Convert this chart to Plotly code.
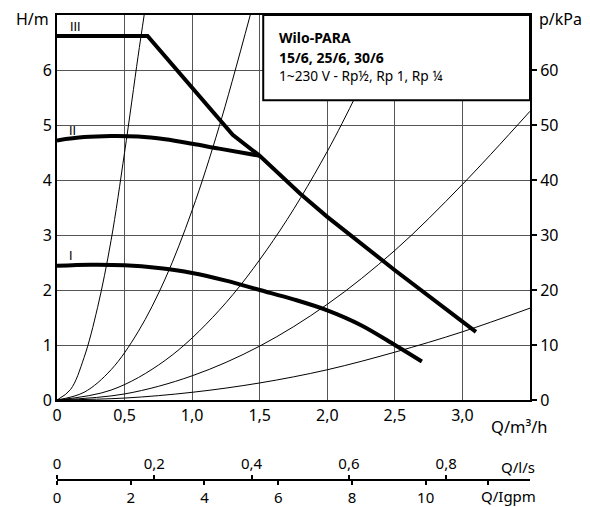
import plotly.graph_objects as go

# ---- data ----
x_ticks = [0, 0.5, 1.0, 1.5, 2.0, 2.5, 3.0]
x_ticktext = ["0", "0,5", "1,0", "1,5", "2,0", "2,5", "3,0"]
h_ticks = [0, 1, 2, 3, 4, 5, 6]
p_ticks = [0, 10, 20, 30, 40, 50, 60]
ls_ticks = [0, 0.2, 0.4, 0.6, 0.8]
ls_ticktext = ["0", "0,2", "0,4", "0,6", "0,8"]
gpm_ticks = [0, 2, 4, 6, 8, 10, 11.7]
gpm_ticktext = ["0", "2", "4", "6", "8", "10", ""]

# pump curves (Q in m3/h, H in m)
I_q = [0, 0.25, 0.5, 0.75, 1.0, 1.25, 1.5, 1.75, 2.0, 2.25, 2.5, 2.7]
I_h = [2.44, 2.46, 2.45, 2.40, 2.31, 2.17, 2.0, 1.83, 1.63, 1.36, 1.0, 0.70]
II_q = [0, 0.2, 0.4, 0.6, 0.8, 1.0, 1.2, 1.5]
II_h = [4.72, 4.78, 4.80, 4.79, 4.74, 4.66, 4.57, 4.44]
III_q = [0, 0.67, 1.3, 1.5, 1.8, 2.0, 2.5, 3.0, 3.1]
III_h = [6.62, 6.62, 4.82, 4.44, 3.75, 3.33, 2.36, 1.43, 1.24]

# system curves
A_q = [0, 0.1, 0.2, 0.3, 0.4, 0.5, 0.6, 0.645]
A_h = [0, 0.19, 0.77, 1.68, 2.9, 4.5, 6.25, 7.0]
B_q = [0, 0.2, 0.4, 0.6, 0.8, 1.0, 1.2, 1.43]
B_h = [0, 0.14, 0.55, 1.24, 2.2, 3.45, 4.97, 7.0]
C_q = [0, 0.4, 0.8, 1.2, 1.6, 2.0, 2.4, 2.49]
C_h = [0, 0.18, 0.72, 1.63, 2.9, 4.52, 6.5, 7.0]
D_q = [0, 0.5, 1.0, 1.5, 2.0, 2.5, 3.0, 3.5]
D_h = [0, 0.11, 0.44, 0.98, 1.74, 2.72, 3.92, 5.25]
E_q = [0, 0.5, 1.0, 1.5, 2.0, 2.5, 3.0, 3.5]
E_h = [0, 0.035, 0.14, 0.31, 0.55, 0.87, 1.24, 1.67]

FONT = "Noto Sans"
OFF = 8  # default page body margin
W, H = 582, 499
ML, MR, MT, MB = 49, 60, 7, 27
plot_w = W - ML - MR
plot_h = H - MT - MB
ydom0 = (H - MB - (400 - OFF)) / plot_h

fig = go.Figure()
for q, h in [(A_q, A_h), (B_q, B_h), (C_q, C_h), (D_q, D_h), (E_q, E_h)]:
    fig.add_trace(go.Scatter(x=q, y=h, mode="lines", line=dict(color="black", width=1, shape="spline"),
                             hoverinfo="skip", showlegend=False))
fig.add_trace(go.Scatter(x=I_q, y=I_h, mode="lines", line=dict(color="black", width=4, shape="spline"), showlegend=False))
fig.add_trace(go.Scatter(x=II_q, y=II_h, mode="lines", line=dict(color="black", width=4, shape="spline"), showlegend=False))
fig.add_trace(go.Scatter(x=III_q, y=III_h, mode="lines", line=dict(color="black", width=4), showlegend=False))
# invisible traces to activate secondary axes
fig.add_trace(go.Scatter(x=[0], y=[0], yaxis="y2", mode="markers", marker=dict(opacity=0), showlegend=False, hoverinfo="skip"))
fig.add_trace(go.Scatter(x=[0], y=[0], xaxis="x2", mode="markers", marker=dict(opacity=0), showlegend=False, hoverinfo="skip"))
fig.add_trace(go.Scatter(x=[0], y=[0], xaxis="x3", mode="markers", marker=dict(opacity=0), showlegend=False, hoverinfo="skip"))

grid = "#555555"
fig.update_layout(
    width=W, height=H,
    margin=dict(l=ML, r=MR, t=MT, b=MB, autoexpand=False),
    paper_bgcolor="white", plot_bgcolor="white",
    font=dict(family=FONT, size=16, color="black"),
    xaxis=dict(range=[0, 3.5], tickvals=x_ticks, ticktext=x_ticktext, showgrid=True, gridcolor=grid, gridwidth=1,
               showline=True, linecolor="black", linewidth=2, mirror=True, ticks="", zeroline=False,
               anchor="y", automargin=False, tickfont=dict(size=16)),
    yaxis=dict(range=[0, 7], domain=[ydom0, 1], tickvals=h_ticks, showgrid=True, gridcolor=grid, gridwidth=1,
               showline=True, linecolor="black", linewidth=2, mirror=True, ticks="", zeroline=False,
               automargin=False, tickfont=dict(size=16)),
    yaxis2=dict(range=[0, 70], overlaying="y", side="right", tickvals=p_ticks, showgrid=False,
                showline=True, linecolor="black", linewidth=2, ticks="outside", ticklen=5, tickwidth=2,
                tickcolor="black", zeroline=False, automargin=False, tickfont=dict(size=16)),
    xaxis2=dict(range=[0, 3.5 / 3.6], overlaying="x", anchor="free", position=0, side="top",
                tickvals=ls_ticks, ticktext=ls_ticktext, showgrid=False, showline=True, linecolor="black",
                linewidth=2, ticks="outside", ticklen=4, tickwidth=2, tickcolor="black", zeroline=False,
                automargin=False, tickfont=dict(size=15)),
    xaxis3=dict(range=[0, 3.5 / 0.2728], overlaying="x", anchor="free", position=0, side="bottom",
                tickvals=gpm_ticks, ticktext=gpm_ticktext, showgrid=False, showline=True, linecolor="black",
                linewidth=2, ticks="outside", ticklen=4, tickwidth=2, tickcolor="black", zeroline=False,
                automargin=False, tickfont=dict(size=15)),
)

# info box
fig.add_shape(type="rect", xref="x", yref="y", x0=1.526, x1=3.5, y0=5.45, y1=7.0,
              fillcolor="white", line=dict(color="black", width=2), layer="above")

def px_to_paper(px, py):
    return (px - OFF - ML) / plot_w, (H - MB - (py - OFF)) / plot_h

ann = []
def add_text(text, px, py, xanchor="left", size=16, bold=False, family=FONT):
    x, y = px_to_paper(px, py)
    t = f"<b>{text}</b>" if bold else text
    ann.append(dict(text=t, x=x, y=y, xref="paper", yref="paper", xanchor=xanchor, yanchor="middle",
                    showarrow=False, font=dict(family=family, size=size, color="black")))

add_text("Wilo-PARA", 277, 38, size=14, bold=True)
add_text("15/6, 25/6, 30/6", 277, 57, size=14, bold=True)
add_text("1~230 V - Rp½, Rp 1, Rp ¼", 277, 75, size=13.7)
add_text("H/m", 51, 19, xanchor="right")
add_text("p/kPa", 537, 19)
add_text("Q/m³/h", 489, 426, size=16.5)
add_text("Q/l/s", 499, 467, size=15)
add_text("Q/Igpm", 479, 496, size=15)
add_text("III", 75, 27, xanchor="center", size=12, family="DejaVu Sans")
add_text("II", 72, 131, xanchor="center", size=12, family="DejaVu Sans")
add_text("I", 71, 256, xanchor="center", size=12, family="DejaVu Sans")
fig.update_layout(annotations=ann)

fig.write_html("out.html")
